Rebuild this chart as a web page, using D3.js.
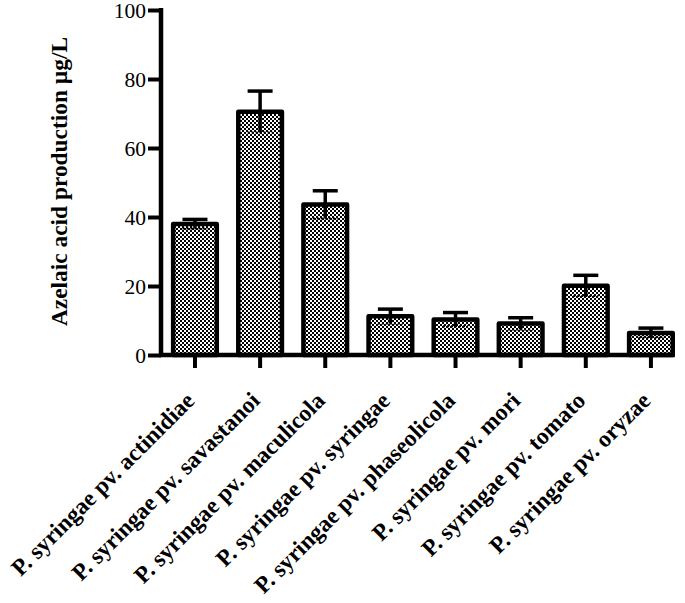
<!DOCTYPE html>
<html><head><meta charset="utf-8">
<script src="https://cdn.jsdelivr.net/npm/d3@7"></script>
<style>body{margin:0;background:#fff}svg{display:block}</style>
</head><body>
<script>
const categories = ["P. syringae pv. actinidiae","P. syringae pv. savastanoi","P. syringae pv. maculicola","P. syringae pv. syringae","P. syringae pv. phaseolicola","P. syringae pv. mori","P. syringae pv. tomato","P. syringae pv. oryzae"];
const values = [38.0, 70.5, 43.6, 11.2, 10.3, 9.1, 20.1, 6.4];
const errors = [1.3, 6.0, 4.0, 2.1, 2.0, 1.7, 3.0, 1.4];
const yTicks = [0, 20, 40, 60, 80, 100];
const yTitle = "Azelaic acid production µg/L";

const W = 685, H = 603;
const svg = d3.select("body").append("svg").attr("width", W).attr("height", H);
const defs = svg.append("defs");
const pat = defs.append("pattern").attr("id","chk").attr("patternUnits","userSpaceOnUse").attr("width",4).attr("height",4);
pat.append("rect").attr("width",4).attr("height",4).attr("fill","#fff");
pat.append("rect").attr("x",0).attr("y",0).attr("width",2).attr("height",2).attr("fill","#000");
pat.append("rect").attr("x",2).attr("y",2).attr("width",2).attr("height",2).attr("fill","#000");

const x = d3.scaleBand().domain(categories).range([162.4, 683.5]).paddingInner(0.33).paddingOuter(0.165);
const y = d3.scaleLinear().domain([0, 100]).range([355, 10]);

const data = categories.map((c, i) => ({c, v: values[i], e: errors[i]}));

// bars
svg.append("g").selectAll("rect").data(data).join("rect")
  .attr("x", d => x(d.c)).attr("width", x.bandwidth())
  .attr("y", d => y(d.v)).attr("height", d => y(0) - y(d.v))
  .attr("fill", "url(#chk)").attr("stroke", "#000").attr("stroke-width", 4.5).attr("stroke-linejoin","round");

// error bars
const eg = svg.append("g").attr("stroke", "#000").attr("stroke-width", 3.5);
const cap = 12.5;
data.forEach(d => {
  const cx = x(d.c) + x.bandwidth()/2;
  eg.append("line").attr("x1", cx).attr("x2", cx).attr("y1", y(d.v + d.e)).attr("y2", y(d.v - d.e));
  eg.append("line").attr("x1", cx - cap).attr("x2", cx + cap).attr("y1", y(d.v + d.e)).attr("y2", y(d.v + d.e));
  eg.append("line").attr("x1", cx - cap).attr("x2", cx + cap).attr("y1", y(d.v - d.e)).attr("y2", y(d.v - d.e)).attr("stroke-width", 2).attr("stroke-dasharray","2,2");
});

// y axis
const yAxis = svg.append("g").attr("transform", "translate(161,0)")
  .call(d3.axisLeft(y).tickValues(yTicks).tickSize(13).tickPadding(2).tickSizeOuter(0));
yAxis.select(".domain").attr("stroke-width", 4.5).attr("d", `M0,${y(100)-2}V${y(0)+2}`);
yAxis.selectAll(".tick line").attr("stroke-width", 4);
yAxis.selectAll(".tick text").attr("font-family", "Liberation Serif").attr("font-size", 21.5).attr("fill","#000").attr("dy","0.36em");

// x axis
const lastRight = x(categories[categories.length-1]) + x.bandwidth() + 2;
const xAxis = svg.append("g").attr("transform", `translate(0,${y(0)})`)
  .call(d3.axisBottom(x).tickSize(13).tickSizeOuter(0).tickFormat(""));
xAxis.select(".domain").attr("stroke-width", 4.5).attr("d", `M159,0H${lastRight}`);
xAxis.selectAll(".tick line").attr("stroke-width", 4);

// x labels
svg.append("g").selectAll("text").data(categories).join("text")
  .attr("transform", d => `translate(${x(d) + x.bandwidth()/2 + 1},${y(0) + 47}) rotate(-45)`)
  .attr("text-anchor", "end")
  .attr("font-family", "Liberation Serif").attr("font-weight", "bold").attr("font-size", 23.5)
  .text(d => d);

// y title
svg.append("text")
  .attr("transform", `translate(67,${(38+325)/2}) rotate(-90)`)
  .attr("text-anchor", "middle")
  .attr("font-family", "Liberation Serif").attr("font-weight", "bold").attr("font-size", 23.4)
  .text(yTitle);
</script>
</body></html>
